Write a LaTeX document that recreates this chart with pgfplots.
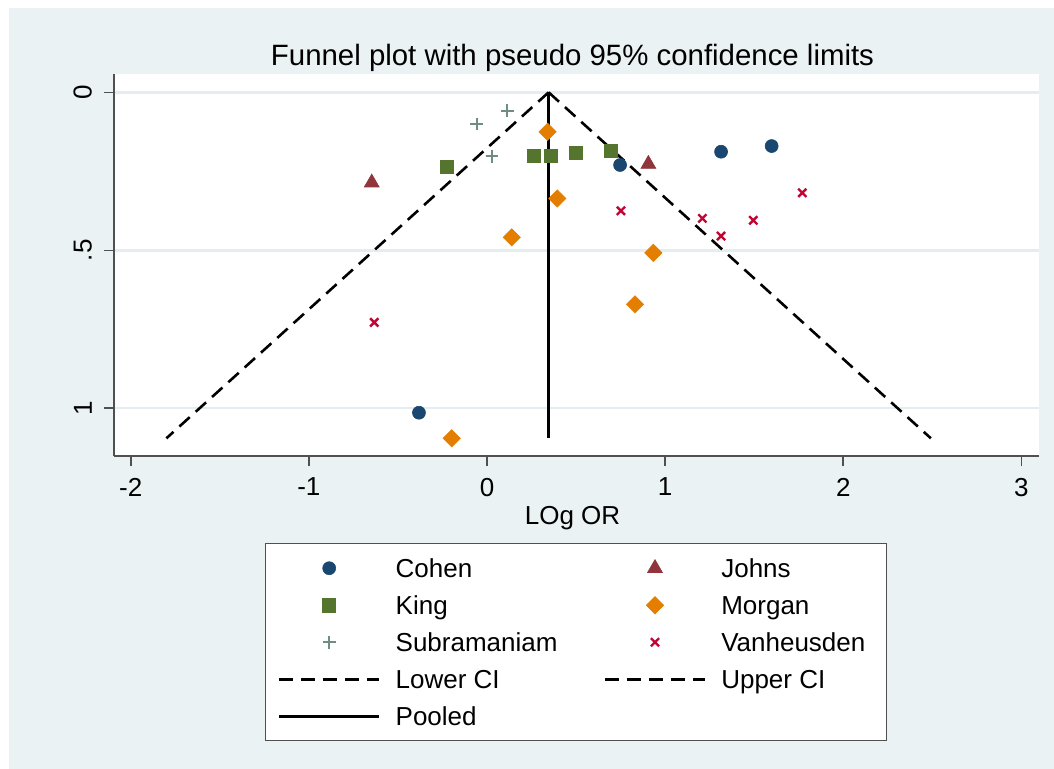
\documentclass[border=0pt]{standalone}
\usepackage{fontspec}
\setmainfont{Liberation Sans}
\usepackage{pgfplots}
\pgfplotsset{compat=1.18}
\definecolor{stbg}{RGB}{234,242,243}
\definecolor{stgrid}{RGB}{228,238,240}
\definecolor{stnavy}{RGB}{26,71,111}
\definecolor{stmaroon}{RGB}{144,53,59}
\definecolor{stforest}{RGB}{85,117,47}
\definecolor{stdkorange}{RGB}{227,126,0}
\definecolor{stteal}{RGB}{110,142,132}
\definecolor{stcranberry}{RGB}{193,5,52}
\definecolor{staxis}{RGB}{80,80,80}
\begin{document}
\begin{tikzpicture}
\fill[white] (0,0) rectangle (527pt,-384.5pt);
\fill[stbg] (4.5pt,-4pt) rectangle (527pt,-384.5pt);
\begin{axis}[
  at={(57pt,-228pt)}, anchor=south west,
  scale only axis, width=462.5pt, height=191pt,
  xmin=-2.094, xmax=3.099, ymin=-0.058, ymax=1.151,
  y dir=reverse,
  axis background/.style={fill=white},
  axis x line*=bottom, axis y line*=left,
  axis line style={draw=staxis, line width=0.9pt, -},
  xtick={-2,-1,0,1,2,3}, ytick={0,0.5,1}, yticklabels={0,.5,1},
  tick align=outside, major tick length=5pt,
  every tick/.style={staxis, line width=0.8pt},
  ymajorgrids, grid style={draw=stgrid, line width=1.2pt},
  tick label style={font=\fontsize{13}{15}\selectfont},
  /pgf/number format/assume math mode=true,
  xticklabel style={yshift=-2.5pt},
  yticklabel style={rotate=90, anchor=south, inner ysep=5.8pt},
  xlabel={LOg OR},
  xlabel style={font=\fontsize{13}{15}\selectfont, at={(0.5,0)}, anchor=base, yshift=-34pt, xshift=-2pt},
  title={Funnel plot with pseudo 95\% confidence limits},
  title style={font=\fontsize{14.7}{17}\selectfont, at={(0.5,1)}, anchor=base, yshift=-1.9pt, xshift=-2pt},
  legend columns=2,
  legend cell align=left,
  legend style={
    at={(0.16324,-0.22775)}, anchor=north west,
    draw=staxis, line width=0.7pt, fill=white,
    inner xsep=6pt, inner ysep=3pt,
    font=\fontsize{13}{15}\selectfont,
    nodes={inner sep=0pt, text height=13.9pt, text depth=4.6pt},
  },
  legend image code/.code={\path (0pt,0pt) (57.5pt,0pt);
    \draw[mark repeat=2,mark phase=2,#1] plot coordinates {(0pt,0pt) (25pt,0pt) (50pt,0pt)};},
]
\addplot[only marks, mark=*, mark size=3.25pt, mark options={draw=stnavy, fill=stnavy, line width=0.3pt}]
  coordinates {(-0.382,1.014) (0.747,0.230) (1.314,0.188) (1.598,0.170)};
\addlegendentry{\makebox[104pt][l]{Cohen}}
\addplot[only marks, mark=triangle*, mark size=4.3pt, mark options={draw=stmaroon, fill=stmaroon, line width=0.3pt}]
  coordinates {(-0.647,0.286) (0.906,0.227)};
\addlegendentry{\makebox[76.5pt][l]{Johns}}
\addplot[only marks, mark=square*, mark size=3.3pt, mark options={draw=stforest, fill=stforest, line width=0.3pt}]
  coordinates {(-0.225,0.235) (0.264,0.201) (0.359,0.202) (0.498,0.192) (0.694,0.185)};
\addlegendentry{\makebox[104pt][l]{King}}
\addplot[only marks, mark=square*, mark size=3.05pt, mark options={draw=stdkorange, fill=stdkorange, line width=0.3pt, rotate=45}]
  coordinates {(0.340,0.125) (0.395,0.336) (0.139,0.459) (0.934,0.508) (0.831,0.671) (-0.198,1.095)};
\addlegendentry{\makebox[76.5pt][l]{Morgan}}
\addplot[only marks, mark=+, mark size=3.2pt, mark options={draw=stteal, line width=1.1pt}]
  coordinates {(-0.058,0.100) (0.114,0.058) (0.028,0.202)};
\addlegendentry{\makebox[104pt][l]{Subramaniam}}
\addplot[only marks, mark=x, mark size=2.9pt, mark options={draw=stcranberry, line width=1.2pt}]
  coordinates {(-0.633,0.728) (0.752,0.375) (1.209,0.399) (1.314,0.455) (1.495,0.405) (1.770,0.318)};
\addlegendentry{\makebox[76.5pt][l]{Vanheusden}}
\addplot[no markers, black, line width=1.3pt, dash pattern=on 7pt off 4pt]
  coordinates {(0.346,0) (-1.800,1.095)};
\addlegendentry{\makebox[104pt][l]{Lower CI}}
\addplot[no markers, black, line width=1.3pt, dash pattern=on 7pt off 4pt]
  coordinates {(0.346,0) (2.492,1.095)};
\addlegendentry{\makebox[76.5pt][l]{Upper CI}}
\addplot[no markers, black, line width=1.5pt]
  coordinates {(0.346,0) (0.346,1.095)};
\addlegendentry{\makebox[104pt][l]{Pooled}}
\end{axis}
\end{tikzpicture}
\end{document}
